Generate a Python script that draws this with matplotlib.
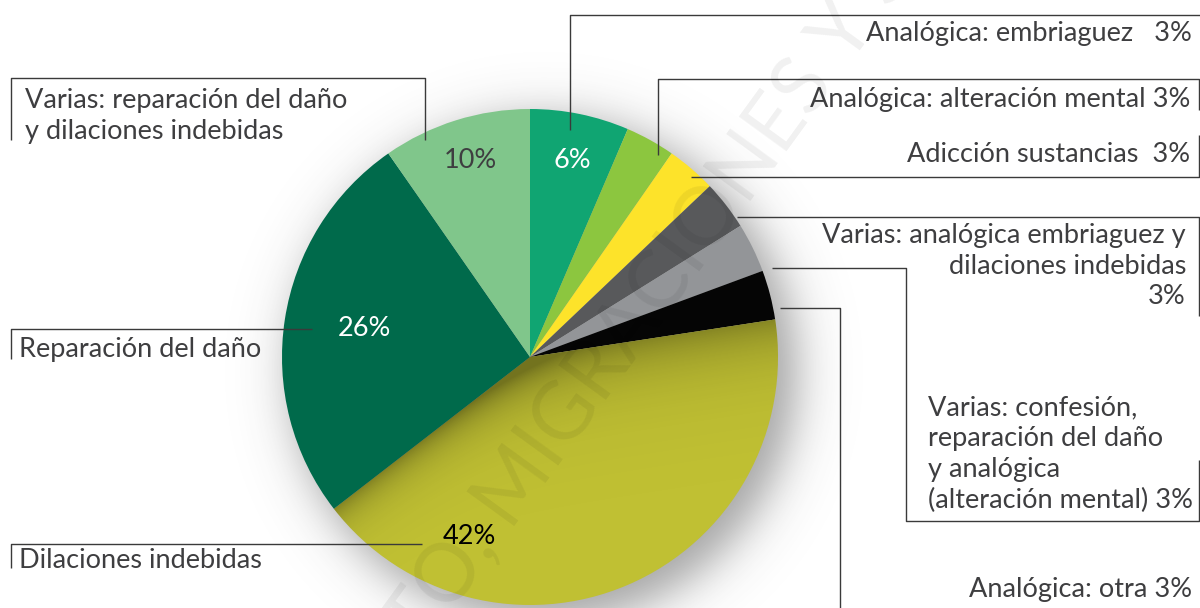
import numpy as np
import matplotlib
matplotlib.use("Agg")
import matplotlib.pyplot as plt
from matplotlib.patches import Wedge

# Data (count of cases per category, clockwise from the top)
categories = ["Analógica: embriaguez", "Analógica: alteración mental",
              "Adicción sustancias",
              "Varias: analógica embriaguez y dilaciones indebidas",
              "Varias: confesión, reparación del daño y analógica (alteración mental)",
              "Analógica: otra", "Dilaciones indebidas", "Reparación del daño",
              "Varias: reparación del daño y dilaciones indebidas"]
counts = [2, 1, 1, 1, 1, 1, 13, 8, 3]
inner_labels = ["6%", "", "", "", "", "", "42%", "26%", "10%"]
outer_labels = ["Analógica: embriaguez   3%",
                "Analógica: alteración mental 3%",
                "Adicción sustancias  3%",
                "Varias: analógica embriaguez y\ndilaciones indebidas\n3%",
                "Varias: confesión,\nreparación del daño\ny analógica\n(alteración mental) 3%",
                "Analógica: otra 3%",
                "Dilaciones indebidas",
                "Reparación del daño",
                "Varias: reparación del daño\ny dilaciones indebidas"]
colors = ["#10a572", "#8cc63f", "#fde32a", "#58595b", "#939598", "#050505",
          "#c0c033", "#006a4b", "#80c68b"]

W, H = 1200, 608
cx, cy, R = 530, 357, 248
txt_col = "#3e3e40"
line_col = "#3a3a3a"
fs = 19.5
plt.rcParams['font.family'] = ['Lato', 'DejaVu Sans']

fig = plt.figure(figsize=(12, 6.08), dpi=100)
ax = fig.add_axes([0, 0, 1, 1])

# soft drop shadow behind the pie
xs = np.arange(W) + 0.5
ys = np.arange(H) + 0.5
X, Y = np.meshgrid(xs, ys)
d = np.hypot(X - (cx + 14), Y - (cy + 14))
sh = 0.48 / (1 + np.exp((d - 252) / 14.0))
shadow = np.zeros((H, W, 4))
shadow[..., 0:3] = 0.25
shadow[..., 3] = sh
ax.imshow(shadow, extent=(0, W, H, 0), origin='upper', zorder=1, interpolation='bilinear')

# pie (y axis is flipped, so counterclock in data = clockwise on screen)
wedges, _ = ax.pie(counts, colors=colors, startangle=-90, counterclock=True,
                   center=(cx, cy), radius=R, frame=True,
                   wedgeprops=dict(linewidth=0))
for w in wedges:
    w.set_zorder(2)
ax.set_xlim(0, W)
ax.set_ylim(H, 0)
ax.set_aspect('equal')
ax.axis('off')

# darkening inside the olive slice along its two edges
olive = wedges[6]
t1 = np.deg2rad(olive.theta1)
t2 = np.deg2rad(olive.theta2)
px, py = X - cx, Y - cy
d1 = np.abs(np.cos(t1) * py - np.sin(t1) * px)
d2 = np.abs(np.cos(t2) * py - np.sin(t2) * px)
shade = 0.30 * np.exp(-d1 / 35.0) + 0.30 * np.exp(-d2 / 18.0)
ov = np.zeros((H, W, 4))
ov[..., 3] = np.clip(shade, 0, 0.4)
im = ax.imshow(ov, extent=(0, W, H, 0), origin='upper', zorder=3, interpolation='bilinear')
clip = Wedge((cx, cy), R, olive.theta1, olive.theta2, transform=ax.transData)
im.set_clip_path(clip)

# percentages inside the slices
inner_pos = [(572, 160), None, None, None, None, None, (469, 537), (364, 328), (470, 160)]
inner_col = ["white", None, None, None, None, None, "black", "white", txt_col]
for lab, pos, c in zip(inner_labels, inner_pos, inner_col):
    if lab:
        ax.text(pos[0], pos[1], lab, color=c, fontsize=fs, ha='center', va='center', zorder=6)

# leader lines (pixel coordinates)
leaders = [
    [(570, 130), (570, 15), (1200, 15)],
    [(658, 155), (658, 79), (1199, 79), (1199, 110)],
    [(691, 177), (1199, 177), (1199, 135)],
    [(737, 217), (1199, 217), (1199, 316)],
    [(772, 268), (906, 268), (906, 521), (1199, 521), (1199, 460)],
    [(780, 308), (840, 308), (840, 610)],
    [(422, 544), (11, 544), (11, 568)],
    [(312, 329), (11, 329), (11, 359)],
    [(425, 140), (425, 78), (11, 78), (11, 140)],
]
for pts in leaders:
    px_, py_ = zip(*pts)
    ax.plot(px_, py_, color=line_col, lw=1.0, solid_capstyle='butt', zorder=5)

# outer category labels
label_layout = [
    (1192, 33, 'right'),
    (1190, 100, 'right'),
    (1190, 155, 'right'),
    (1186, 266, 'right'),
    (928, 454, 'left'),
    (1192, 590, 'right'),
    (19, 560, 'left'),
    (19, 349, 'left'),
    (25, 116, 'left'),
]
for lab, (x, y, ha) in zip(outer_labels, label_layout):
    ax.text(x, y, lab, color=txt_col, fontsize=fs, ha=ha, va='center',
            multialignment=ha, linespacing=1.3, zorder=6)

# faint diagonal watermark
ax.text(650, 300, "TO, MIGRACIONES Y S", rotation=54, fontsize=58, color='black',
        alpha=0.06, ha='center', va='center', rotation_mode='anchor', zorder=7)

fig.savefig("out.png", dpi=100)
